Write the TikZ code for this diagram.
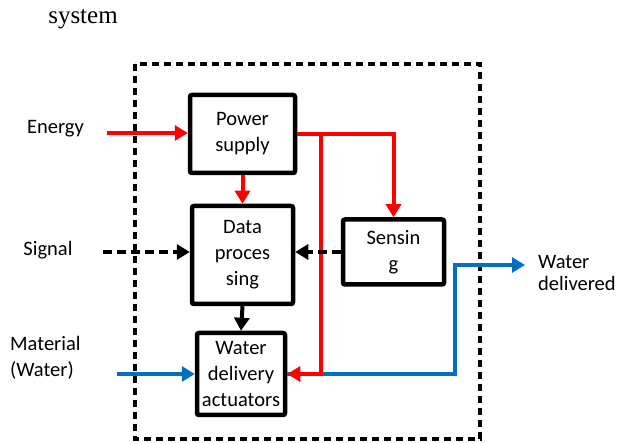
\documentclass[tikz,border=0pt]{standalone}
\usepackage{fontspec}
\setmainfont{Carlito}
\newfontfamily\timesfont{Liberation Serif}
\usetikzlibrary{positioning, arrows.meta}
\definecolor{flowblue}{RGB}{0,112,192}

\begin{document}
\begin{tikzpicture}[x=1pt, y=-1pt,
block/.style = {rectangle, draw=black, line width=4.5pt, rounded corners=2pt, align=center,
  inner sep=0pt, font=\fontsize{20.5}{26}\selectfont},
lbl/.style = {inner sep=0pt, align=left, font=\fontsize{20.5}{26}\selectfont},
flow/.style = {line width=4pt, -{Triangle[length=13pt, width=15pt]}},
redflow/.style = {flow, red},
blueflow/.style = {flow, flowblue},
sigflow/.style = {flow, black, dash pattern=on 9pt off 5pt}]

  \useasboundingbox (0,0) rectangle (619,443);

  \node[font=\timesfont\fontsize{25}{30}\selectfont, inner sep=0pt] (title) at (83,19) {system};

  % boundary of the system
  \draw[line width=3.5pt, dash pattern=on 7pt off 5pt] (135,64) rectangle (480,439);

  \node[block, minimum width=105pt, minimum height=78pt] (power) at (242.5,134) {Power\\supply};
  \node[block, minimum width=101pt, minimum height=98pt] (data) at (242.5,255) {Data\\proces\\sing};
  \node[block, minimum width=101pt, minimum height=65pt] (sensing) at (393.5,252) {Sensin\\g};
  \node[block, minimum width=88pt, minimum height=82pt] (water) at (241,374) {Water\\delivery\\actuators};

  \node[lbl] (energy) at (55.5,129) {Energy};
  \node[lbl] (signal) at (48,250) {Signal};
  \node[lbl, anchor=west] (material) at (10,358) {Material\\(Water)};

  \coordinate (energyin) at (107,133);
  \coordinate (signalin) at (103,252);
  \coordinate (materialin) at (117,374);
  \coordinate (waterout) at (525,265);
  \coordinate (split) at ([xshift=24pt]power.east);

  \node[lbl, anchor=west, font=\fontsize{20.5}{22}\selectfont] (delivered) at (538,273) {Water\\delivered};

  \draw[redflow] (energyin) -- (energyin -| power.west);
  \draw[sigflow] (signalin) -- (signalin -| data.west);
  \draw[blueflow] (materialin) -- (materialin -| water.west);

  \draw[blueflow] (water.east) -| ([xshift=-70pt]waterout) -- (waterout);

  \draw[redflow] (power.south) -- (data.north);
  \draw[redflow] (power.east) -| (sensing.north);
  \draw[redflow] (split) |- (water.east);

  \draw[sigflow] (sensing.west) -- (sensing.west -| data.east);
  \draw[flow] (data.south) -- (water.north);

\end{tikzpicture}
\end{document}
